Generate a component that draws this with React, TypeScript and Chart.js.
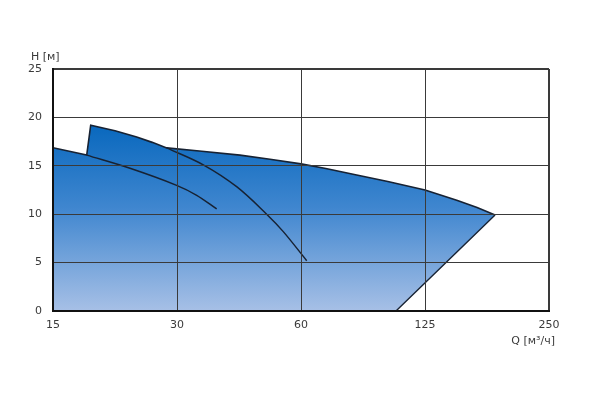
import React, { useEffect, useRef } from "react";
import { Chart, registerables } from "chart.js";

Chart.register(...registerables);

// X axis: tick positions are equally spaced (log-like Q axis); labels per tick index
const xTickLabels = ["15", "30", "60", "125", "250"];
const yTickValues = [0, 5, 10, 15, 20, 25];

// Envelope (upper boundary of operating field), x in tick-index units
const envelopeX = [0, 0.272, 0.304, 0.5, 0.675, 0.8, 0.917, 1.2, 1.508, 1.75, 2.0, 2.2, 2.449, 2.7, 3.0, 3.256, 3.42, 3.565];
const envelopeH = [16.87, 16.1, 19.2, 18.62, 17.98, 17.42, 16.85, 16.5, 16.1, 15.68, 15.2, 14.72, 14.05, 13.37, 12.5, 11.45, 10.68, 9.92];

// Lower / right boundary of the field
const boundaryX = [0, 2.766, 3.565];
const boundaryH = [0, 0, 9.92];

// Inner curve A (continuation of the left curve)
const curveAX = [0.272, 0.621, 0.997, 1.159, 1.32];
const curveAH = [16.1, 14.74, 12.98, 11.95, 10.54];

// Inner curve B
const curveBX = [0.917, 1.212, 1.481, 1.723, 1.857, 2.046];
const curveBH = [16.85, 15.1, 12.84, 10.0, 8.2, 5.2];

const yTitle = "H [м]";
const xTitle = "Q [м³/ч]";

const toPts = (xs: number[], ys: number[]) => xs.map((x, i) => ({ x, y: ys[i] }));

const FONT = "DejaVu Sans";
const TEXT = "#3a3a3a";
const LINE = "#172233";
const GRID = "#3a3a3a";

export default function App() {
  const ref = useRef<HTMLCanvasElement | null>(null);

  useEffect(() => {
    if (!ref.current) return;
    const titles = {
      id: "axisTitles",
      afterDraw(chart: any) {
        const c = chart.ctx;
        c.save();
        c.fillStyle = TEXT;
        c.font = `11px "${FONT}"`;
        c.textBaseline = "middle";
        c.textAlign = "left";
        c.fillText(yTitle, 31, 57);
        c.textAlign = "right";
        c.fillText(xTitle, 555, 341);
        c.restore();
      },
    };

    const gradientFill = (ctx: any) => {
      const chart = ctx.chart;
      const area = chart.chartArea;
      if (!area) return "#3f86cf";
      const y = chart.scales.y;
      const g = chart.ctx.createLinearGradient(0, y.getPixelForValue(19.5), 0, y.getPixelForValue(0));
      g.addColorStop(0, "#0767bd");
      g.addColorStop(0.45, "#3f86cf");
      g.addColorStop(1, "#a7c0e6");
      return g;
    };

    const chart = new Chart(ref.current, {
      type: "line",
      data: {
        datasets: [
          {
            data: toPts(envelopeX, envelopeH),
            borderColor: LINE,
            borderWidth: 1.6,
            pointRadius: 0,
            tension: 0,
            backgroundColor: gradientFill,
            fill: { target: 1 },
            order: 10,
          },
          {
            data: toPts(boundaryX, boundaryH),
            borderColor: LINE,
            borderWidth: 1.4,
            pointRadius: 0,
            tension: 0,
            fill: false,
            order: 9,
          },
          {
            data: toPts(curveAX, curveAH),
            borderColor: LINE,
            borderWidth: 1.5,
            pointRadius: 0,
            tension: 0.35,
            fill: false,
            order: 1,
          },
          {
            data: toPts(curveBX, curveBH),
            borderColor: LINE,
            borderWidth: 1.5,
            pointRadius: 0,
            tension: 0.35,
            fill: false,
            order: 1,
          },
        ],
      } as any,
      options: {
        animation: false,
        responsive: true,
        maintainAspectRatio: false,
        layout: { padding: { left: 0, top: 69, right: 43, bottom: 0 } },
        plugins: { legend: { display: false }, tooltip: { enabled: false } },
        scales: {
          x: {
            type: "linear",
            min: 0,
            max: xTickLabels.length - 1,
            afterFit: (s: any) => {
              s.height = 91;
            },
            afterBuildTicks: (s: any) => {
              s.ticks = xTickLabels.map((_, i) => ({ value: i }));
            },
            ticks: {
              padding: 8,
              color: TEXT,
              font: { family: FONT, size: 11 },
              maxRotation: 0,
              callback: (v: any) => xTickLabels[Math.round(Number(v))] ?? "",
            },
            grid: {
              z: 1,
              drawTicks: false,
              color: GRID,
              lineWidth: (c: any) => (c.tick && c.tick.value === xTickLabels.length - 1 ? 2 : 1),
            },
            border: { display: true, color: "#111", width: 2, z: 2 },
          },
          y: {
            type: "linear",
            min: 0,
            max: 25,
            afterFit: (s: any) => {
              s.width = 53;
            },
            afterBuildTicks: (s: any) => {
              s.ticks = yTickValues.map((v) => ({ value: v }));
            },
            ticks: {
              padding: 11,
              color: TEXT,
              font: { family: FONT, size: 11 },
            },
            grid: {
              z: 1,
              drawTicks: false,
              color: GRID,
              lineWidth: (c: any) => (c.tick && c.tick.value === 25 ? 2 : 1),
            },
            border: { display: true, color: "#111", width: 2, z: 2 },
          },
        },
      } as any,
      plugins: [titles],
    });
    return () => chart.destroy();
  }, []);

  return (
    <div style={{ position: "absolute", left: 0, top: 0, width: 592, height: 402, background: "#fff" }}>
      <canvas ref={ref} />
    </div>
  );
}
